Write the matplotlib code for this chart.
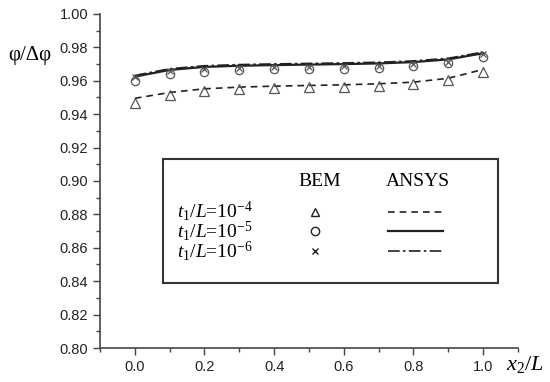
import matplotlib.pyplot as plt
from matplotlib.ticker import MultipleLocator
from matplotlib.lines import Line2D
from matplotlib.patches import Rectangle

x = [0.0, 0.1, 0.2, 0.3, 0.4, 0.5, 0.6, 0.7, 0.8, 0.9, 1.0]

# BEM results
bem_t4 = [0.9465, 0.9515, 0.9540, 0.9549, 0.9555, 0.9561, 0.9565, 0.9571, 0.9581, 0.9605, 0.9655]
bem_t5 = [0.9599, 0.9641, 0.9655, 0.9665, 0.9669, 0.9671, 0.9673, 0.9679, 0.9689, 0.9705, 0.9744]
bem_t6 = [0.9620, 0.9660, 0.9672, 0.9679, 0.9682, 0.9684, 0.9686, 0.9690, 0.9698, 0.9715, 0.9760]

# ANSYS results
ans_t4 = [0.9495, 0.9530, 0.9552, 0.9562, 0.9568, 0.9572, 0.9576, 0.9582, 0.9592, 0.9615, 0.9668]
ans_t5 = [0.9625, 0.9665, 0.9683, 0.9690, 0.9694, 0.9697, 0.9700, 0.9704, 0.9712, 0.9728, 0.9765]
ans_t6 = [0.9632, 0.9672, 0.9690, 0.9697, 0.9701, 0.9704, 0.9707, 0.9711, 0.9719, 0.9735, 0.9772]

row_labels = [r"$t_1/L$=10$^{\mathrm{-4}}$",
              r"$t_1/L$=10$^{\mathrm{-5}}$",
              r"$t_1/L$=10$^{\mathrm{-6}}$"]

plt.rcParams['mathtext.fontset'] = 'custom'
plt.rcParams['mathtext.rm'] = 'Liberation Serif'
plt.rcParams['mathtext.it'] = 'Liberation Serif:italic'

fig = plt.figure(figsize=(5.5, 3.82), dpi=100)
ax = fig.add_axes([0.1818, 0.0890, 0.76, 0.8744])

gray = '#444444'
ax.plot(x, ans_t4, ls=(0, (4, 3)), color='#222222', lw=1.2)
ax.plot(x, ans_t5, ls='-', color='#222222', lw=1.6)
ax.plot(x, ans_t6, ls=(0, (7, 2, 1.5, 2)), color='#222222', lw=1.2)
ax.plot(x, bem_t4, ls='none', marker='^', ms=7, mfc='none', mec='#555555', mew=0.9)
ax.plot(x, bem_t5, ls='none', marker='o', ms=6, mfc='none', mec='#555555', mew=0.9)
ax.plot(x, bem_t6, ls='none', marker='x', ms=5, mec='#555555', mew=0.9)

ax.set_xlim(-0.1, 1.1)
ax.set_ylim(0.80, 1.00)
ax.xaxis.set_major_locator(MultipleLocator(0.2))
ax.xaxis.set_minor_locator(MultipleLocator(0.1))
ax.yaxis.set_major_locator(MultipleLocator(0.02))
ax.yaxis.set_minor_locator(MultipleLocator(0.01))
ax.xaxis.set_major_formatter(plt.FuncFormatter(lambda v, p: f"{v:.1f}"))
ax.yaxis.set_major_formatter(plt.FuncFormatter(lambda v, p: f"{v:.2f}"))
for s in ['top', 'right']:
    ax.spines[s].set_visible(False)
for s in ['left', 'bottom']:
    ax.spines[s].set_color(gray)
    ax.spines[s].set_linewidth(1.2)
ax.tick_params(which='major', direction='out', length=5, width=1, colors=gray,
               labelcolor='#222222', labelsize=10.5)
ax.tick_params(which='minor', direction='out', length=3, width=1, colors=gray)
for lab in ax.get_xticklabels() + ax.get_yticklabels():
    lab.set_family('Liberation Sans')

fig.text(0.055, 0.855, "φ/Δφ", fontsize=15, family='Liberation Serif', ha='center', va='center')
fig.text(0.955, 0.045, r"$x_2/L$", fontsize=16, ha='center', va='center')

# custom legend box
box = Rectangle((163 / 550, 1 - 283 / 382), (498 - 163) / 550, (283 - 159) / 382,
                transform=fig.transFigure, fill=True, fc='white', ec='#333333', lw=1.5)
fig.add_artist(box)
fig.text(320 / 550, 1 - 181 / 382, "BEM", fontsize=14, family='Liberation Serif', ha='center', va='center')
fig.text(418 / 550, 1 - 181 / 382, "ANSYS", fontsize=14, family='Liberation Serif', ha='center', va='center')

# row labels as one block of text
fig.text(177 / 550, 1 - 231 / 382, "\n".join(row_labels), fontsize=14, ha='left',
         va='center', family='Liberation Serif', linespacing=0.8)
row_y = [212, 231, 251]
markers = ['^', 'o', 'x']
styles = [(0, (4, 3)), '-', (0, (7, 2, 1.5, 2))]
for yy, m, st in zip(row_y, markers, styles):
    fy = 1 - yy / 382
    fig.add_artist(Line2D([315 / 550], [fy], transform=fig.transFigure, ls='none',
                          marker=m, ms=6 if m != 'x' else 5, mfc='none', mec='#222222', mew=1.0))
    fig.add_artist(Line2D([388 / 550, 443 / 550], [fy, fy], transform=fig.transFigure,
                          ls=st, color='#222222', lw=1.2 if st != '-' else 1.6))

fig.savefig('out.png', dpi=100)
